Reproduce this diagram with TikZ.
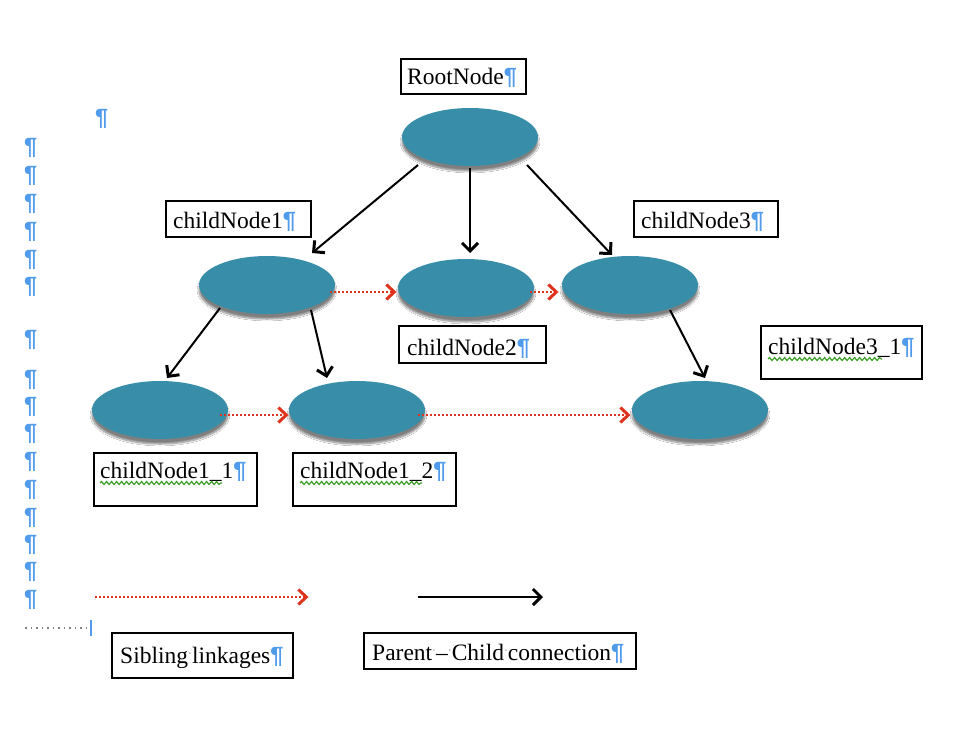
\documentclass[tikz,border=0pt]{standalone}
\usepackage{fontspec}
\setmainfont{Liberation Serif}
\newfontfamily\pilfont{Liberation Sans}
\usetikzlibrary{shapes.geometric,arrows.meta,calc,shadows.blur,decorations.pathmorphing}
\definecolor{blobfill}{RGB}{56,142,168}
\definecolor{pilblue}{RGB}{80,155,235}
\definecolor{sibred}{RGB}{222,52,30}
\definecolor{spellgreen}{RGB}{60,160,40}
\newcommand{\pil}{{\pilfont\bfseries\color{pilblue}\P}}
\newcommand{\spc}{{\color{gray}\raisebox{0.5ex}{\scalebox{0.5}{·}}}}
\tikzset{
  every node/.style={font=\fontsize{23.5}{27}\selectfont},
  blob/.style={ellipse, fill=blobfill, draw=none, minimum width=136pt, minimum height=58pt,
    blur shadow={shadow xshift=0pt, shadow yshift=-5pt, shadow blur steps=8, shadow opacity=50}},
  lblbox/.style={draw=black, line width=2pt, anchor=north west, inner sep=0pt},
  lbltxt/.style={anchor=base west, inner sep=0pt},
  pc/.style={draw=black, line width=2pt, -{Straight Barb[length=8pt,width=16pt,line width=3pt]}},
  sib/.style={draw=sibred, line width=2pt, dash pattern=on 2pt off 2pt, -{Straight Barb[length=8pt,width=15pt,line width=3pt,sep]}},
  spell/.style={draw=spellgreen, line width=1.2pt, decorate, decoration={snake, amplitude=1.5pt, segment length=5pt}},
}
\begin{document}
\begin{tikzpicture}[x=1pt,y=-1pt]
\useasboundingbox (0,0) rectangle (968,750);
\fill[white] (0,0) rectangle (968,750);

% ellipses
\node[blob] (root) at (470,137) {};
\node[blob] (c1) at (267,285) {};
\node[blob] (c2) at (466,288) {};
\node[blob] (c3) at (630,285) {};
\node[blob] (c11) at (160,410) {};
\node[blob] (c12) at (357,410) {};
\node[blob] (c31) at (700,410) {};

% label boxes
\node[lblbox, minimum width=125pt, minimum height=35pt] (lroot) at (400,58) {};
\node[lbltxt] (troot) at (407,84) {RootNode\pil};
\node[lblbox, minimum width=145pt, minimum height=36pt] (lc1) at (165,200) {};
\node[lbltxt] (tc1) at (173,228) {childNode1\pil};
\node[lblbox, minimum width=144pt, minimum height=36pt] (lc3) at (633,200) {};
\node[lbltxt] (tc3) at (641,228) {childNode3\pil};
\node[lblbox, minimum width=147pt, minimum height=37pt] (lc2) at (398,325) {};
\node[lbltxt] (tc2) at (407,355) {childNode2\pil};
\node[lblbox, minimum width=161pt, minimum height=53pt] (lc31) at (760,325) {};
\node[lbltxt] (tc31) at (768,354) {childNode3\_1\pil};
\node[lblbox, minimum width=163pt, minimum height=53pt] (lc11) at (93,452) {};
\node[lbltxt] (tc11) at (100,478) {childNode1\_1\pil};
\node[lblbox, minimum width=163pt, minimum height=53pt] (lc12) at (292,452) {};
\node[lbltxt] (tc12) at (300,478) {childNode1\_2\pil};
\node[lblbox, minimum width=181pt, minimum height=45pt] (lsib) at (111,632) {};
\node[lbltxt] (tsib) at (120,663) {Sibling\spc linkages\pil};
\node[lblbox, minimum width=272pt, minimum height=36pt] (lpc) at (363,632) {};
\node[lbltxt] (tpc) at (372,660) {Parent\spc–\spc Child\spc connection\pil};

% spelling underlines
\draw[spell] ($(tc11.base west)+(0,5)$) -- ($(tc11.base west)+(122,5)$);
\draw[spell] ($(tc12.base west)+(0,5)$) -- ($(tc12.base west)+(122,5)$);
\draw[spell] ($(tc31.base west)+(0,5)$) -- ($(tc31.base west)+(114,5)$);

% parent-child connections
\draw[pc] ($(root)+(-52,28)$) -- ($(c1)+(45,-32)$);
\draw[pc] ($(root)+(0,31)$) -- ($(c2)+(4,-35)$);
\draw[pc] ($(root)+(57,28)$) -- ($(c3)+(-18,-30)$);
\draw[pc] ($(c1)+(-47,23)$) -- ($(c11)+(7,-32)$);
\draw[pc] ($(c1)+(44,25)$) -- ($(c12)+(-30,-32)$);
\draw[pc] ($(c3)+(40,25)$) -- ($(c31)+(5,-32)$);

% sibling linkages
\draw[sib] ($(c1)+(63,7)$) -- ($(c2)+(-68,4)$);
\draw[sib] ($(c2)+(64,4)$) -- ($(c3)+(-70,7)$);
\draw[sib] ($(c11)+(60,5)$) -- ($(c12)+(-67,5)$);
\draw[sib] ($(c12)+(61,5)$) -- ($(c31)+(-68,5)$);

% legend
\coordinate (sa) at (95,597);
\coordinate (sb) at (310,597);
\coordinate (pa) at (418,597);
\coordinate (pb) at (543,597);
\draw[sib] (sa) -- (sb);
\draw[pc] (pa) -- (pb);
\coordinate (ga) at (25,628);
\coordinate (gb) at (88,628);
\draw[gray, line width=1.5pt, dash pattern=on 1.5pt off 4pt] (ga) -- (gb);
\draw[pilblue, line width=2pt] (91,620) -- (91,636);

% paragraph marks
\node[lbltxt] (p0) at (95,125) {\pil};
\foreach \yy [count=\i] in {146,174,202,230,258,285,338,378,405,432,460,488,516,543,570,598}
  \node[lbltxt] (pm\i) at (24,\yy+8) {\pil};
\end{tikzpicture}
\end{document}
